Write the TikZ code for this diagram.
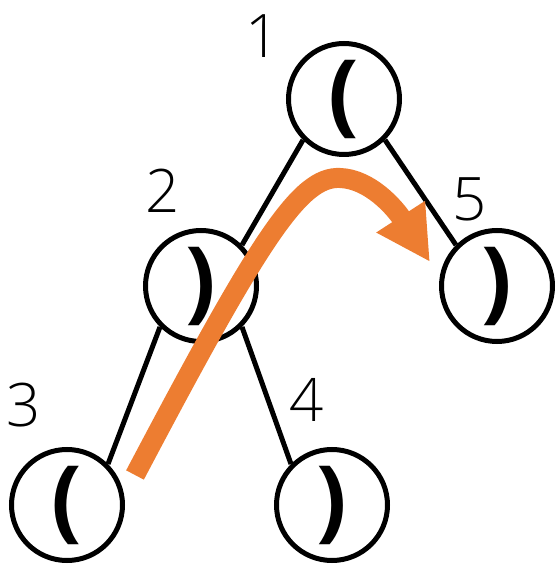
\documentclass[tikz,border=0pt]{standalone}
\usepackage{fontspec}
\setmainfont{Open Sans}
\newfontfamily\numfont{Open Sans Light}
\usetikzlibrary{arrows.meta}
\definecolor{walkorange}{HTML}{ED7D31}

\begin{document}
\begin{tikzpicture}[x=1pt,y=1pt,
  paren/.style={circle, draw, line width=5pt, minimum size=111pt, inner sep=0pt,
    font=\fontsize{90}{90}\selectfont\bfseries},
  num/.style={font=\numfont\fontsize{60}{60}\selectfont, inner sep=0pt},
  edge/.style={line width=5pt},
  walk/.style={walkorange, line width=20pt, -{Triangle[length=54pt,width=54pt]}}]
\useasboundingbox (0,0) rectangle (555,568);
% tree nodes:
\node[paren] (n1) at (344,469) {(};
\node[paren] (n2) at (201,282) {)};
\node[paren] (n5) at (497,282) {)};
\node[paren] (n3) at (67,63) {(};
\node[paren] (n4) at (332,63) {)};
% edges:
\draw[edge] (n1.south west) -- (n2.north east);
\draw[edge] (n1.south east) -- (n5.north west);
\draw[edge] (n2.south west) -- (n3.north east);
\draw[edge] (n2.south east) -- (n4.north west);
% numbers:
\node[num] (l1) at (263,532) {1};
\node[num] (l2) at (163,377) {2};
\node[num] (l5) at (470,369) {5};
\node[num] (l3) at (24,163) {3};
\node[num] (l4) at (307,168) {4};
% walk from 3 to 5:
\coordinate (wstart) at (135,93);
\coordinate (wpeak) at (340,390);
\coordinate (wtip) at (430,306);
\draw[walk] (wstart) .. controls (260,330) and (300,392) .. (wpeak)
  .. controls (370,389) and (395,360) .. (wtip);
\end{tikzpicture}
\end{document}
